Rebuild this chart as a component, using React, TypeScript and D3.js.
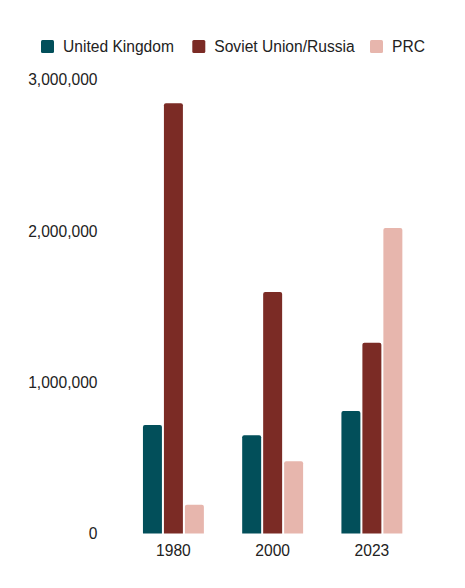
import { useEffect, useRef } from "react"
import * as d3 from "d3"

const years = ["1980", "2000", "2023"]
const seriesNames = ["United Kingdom", "Soviet Union/Russia", "PRC"]
const seriesColors = ["#024f5a", "#7b2b25", "#e7b6ad"]
const ukValues = [718000, 649000, 810000]
const russiaValues = [2845000, 1597000, 1262000]
const prcValues = [190000, 478000, 2020000]
const yTicks = [0, 1000000, 2000000, 3000000]

const WIDTH = 465
const HEIGHT = 588
const FONT = "'Liberation Sans', Arial, sans-serif"

// rect with rounded top corners only
function topRoundedRect(x: number, y: number, w: number, h: number, r: number) {
  const rr = Math.min(r, h, w / 2)
  return `M${x},${y + h}V${y + rr}Q${x},${y} ${x + rr},${y}H${x + w - rr}Q${x + w},${y} ${x + w},${y + rr}V${y + h}Z`
}

export default function App() {
  const svgRef = useRef<SVGSVGElement>(null)

  useEffect(() => {
    if (!svgRef.current) return
    const svg = d3.select(svgRef.current)
    svg.selectAll("*").remove()

    const allValues = [ukValues, russiaValues, prcValues]

    const x0 = d3.scaleBand<string>().domain(years).range([123.8, 421.5]).paddingInner(0.386).paddingOuter(0.193)
    const x1 = d3
      .scaleBand<string>()
      .domain(seriesNames)
      .range([0, x0.bandwidth()])
      .paddingInner(2 / 21)
    const y = d3.scaleLinear().domain([0, 3000000]).range([533.5, 79.9])

    // y tick labels
    svg
      .append("g")
      .selectAll("text")
      .data(yTicks)
      .enter()
      .append("text")
      .attr("x", 97.5)
      .attr("y", (d) => y(d))
      .attr("dy", "0.35em")
      .attr("text-anchor", "end")
      .style("font-family", FONT)
      .style("font-size", "15.6px")
      .style("fill", "#222")
      .text((d) => d3.format(",")(d))

    // bars
    const groups = svg
      .append("g")
      .selectAll("g")
      .data(years)
      .enter()
      .append("g")
      .attr("transform", (d) => `translate(${x0(d)},0)`)

    groups
      .selectAll("path")
      .data((_, i) => seriesNames.map((name, s) => ({ name, s, value: allValues[s][i] })))
      .enter()
      .append("path")
      .attr("d", (d) => topRoundedRect(x1(d.name)!, y(d.value), x1.bandwidth(), y(0) - y(d.value), 2))
      .attr("fill", (d) => seriesColors[d.s])

    // x labels
    svg
      .append("g")
      .selectAll("text")
      .data(years)
      .enter()
      .append("text")
      .attr("x", (d) => x0(d)! + x0.bandwidth() / 2)
      .attr("y", 551)
      .attr("dy", "0.35em")
      .attr("text-anchor", "middle")
      .style("font-family", FONT)
      .style("font-size", "15.6px")
      .style("fill", "#222")
      .text((d) => d)

    // legend
    const legendX = [41, 192.3, 370]
    const legend = svg
      .append("g")
      .selectAll("g")
      .data(seriesNames)
      .enter()
      .append("g")
      .attr("transform", (_, i) => `translate(${legendX[i]},40)`)

    legend
      .append("rect")
      .attr("width", 13)
      .attr("height", 13)
      .attr("rx", 1.5)
      .attr("fill", (_, i) => seriesColors[i])

    legend
      .append("text")
      .attr("x", 22)
      .attr("y", 6.5)
      .attr("dy", "0.35em")
      .style("font-family", FONT)
      .style("font-size", "15.6px")
      .style("fill", "#222")
      .text((d) => d)
  }, [])

  return (
    <div style={{ position: "absolute", top: 0, left: 0, background: "#fff" }}>
      <svg ref={svgRef} width={WIDTH} height={HEIGHT}></svg>
    </div>
  )
}
